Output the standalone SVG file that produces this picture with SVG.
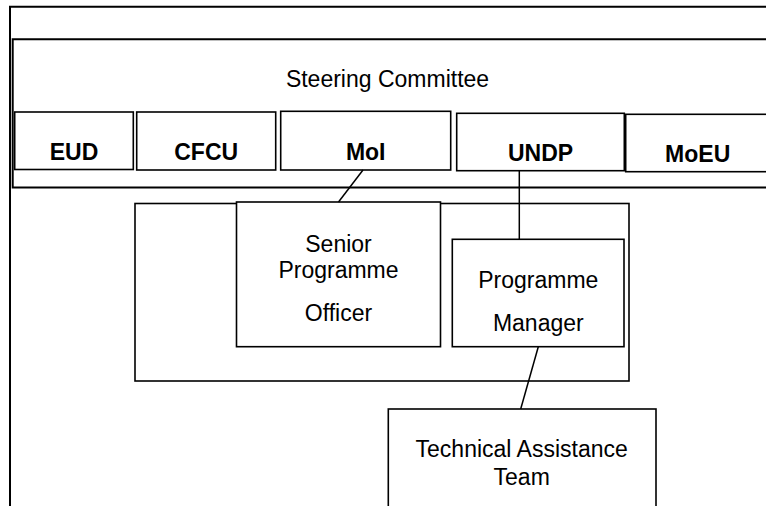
<svg xmlns="http://www.w3.org/2000/svg" width="766" height="506" viewBox="0 0 766 506">
<style>
  .box { fill: #ffffff; stroke: #000000; stroke-width: 1.6; }
  .frame { fill: none; stroke: #000000; stroke-width: 2; }
  .conn { fill: none; stroke: #000000; stroke-width: 1.5; }
  text { font-family: "Liberation Sans", Arial, sans-serif; font-size: 23px; fill: #000000; text-anchor: middle; }
  .b { font-weight: bold; }
</style>
<rect x="0" y="0" width="766" height="506" fill="#ffffff"/>
<g id="frame">
  <path class="frame" d="M10,506 V6.7 H768"/>
</g>
<g id="steering-committee">
  <path class="frame" d="M768,39.3 H12.7 V187.5 H768" stroke-width="1.8"/>
  <text x="387.5" y="86.7">Steering Committee</text>
</g>
<g id="eud">
  <rect class="box" x="14.7" y="112" width="118.6" height="57.5"/>
  <text class="b" x="74" y="160">EUD</text>
</g>
<g id="cfcu">
  <rect class="box" x="136.7" y="112" width="139" height="58"/>
  <text class="b" x="206.2" y="160">CFCU</text>
</g>
<g id="moi">
  <rect class="box" x="280.7" y="111.3" width="170" height="58.7"/>
  <text class="b" x="365.7" y="160">MoI</text>
</g>
<g id="undp">
  <rect class="box" x="456.7" y="113.3" width="167.6" height="57.4"/>
  <text class="b" x="540.5" y="161">UNDP</text>
</g>
<g id="moeu">
  <rect class="box" x="625.7" y="114.3" width="150" height="57.4" stroke-width="2"/>
  <text class="b" x="697.7" y="161.7">MoEU</text>
</g>
<g id="programme-unit">
  <rect class="box" x="135" y="203.5" width="494" height="177.5"/>
</g>
<g id="senior-programme-officer">
  <rect class="box" x="236.5" y="202" width="204" height="144.7" stroke-width="2"/>
  <text x="338.5" y="251.7">Senior</text>
  <text x="338.5" y="278.3">Programme</text>
  <text x="338.5" y="320.7">Officer</text>
</g>
<g id="programme-manager">
  <rect class="box" x="452.3" y="239.3" width="171.7" height="107.4"/>
  <text x="538.3" y="287.7">Programme</text>
  <text x="538.3" y="330.7">Manager</text>
</g>
<g id="technical-assistance-team">
  <rect class="box" x="388.3" y="409" width="267.7" height="110"/>
  <text x="521.7" y="456.7">Technical Assistance</text>
  <text x="521.7" y="485">Team</text>
</g>
<g id="connectors">
  <line class="conn" x1="363" y1="170" x2="338.5" y2="202"/>
  <line class="conn" x1="519.3" y1="170.7" x2="519.3" y2="239.3"/>
  <line class="conn" x1="538.3" y1="346.7" x2="520.7" y2="409"/>
</g>
</svg>
